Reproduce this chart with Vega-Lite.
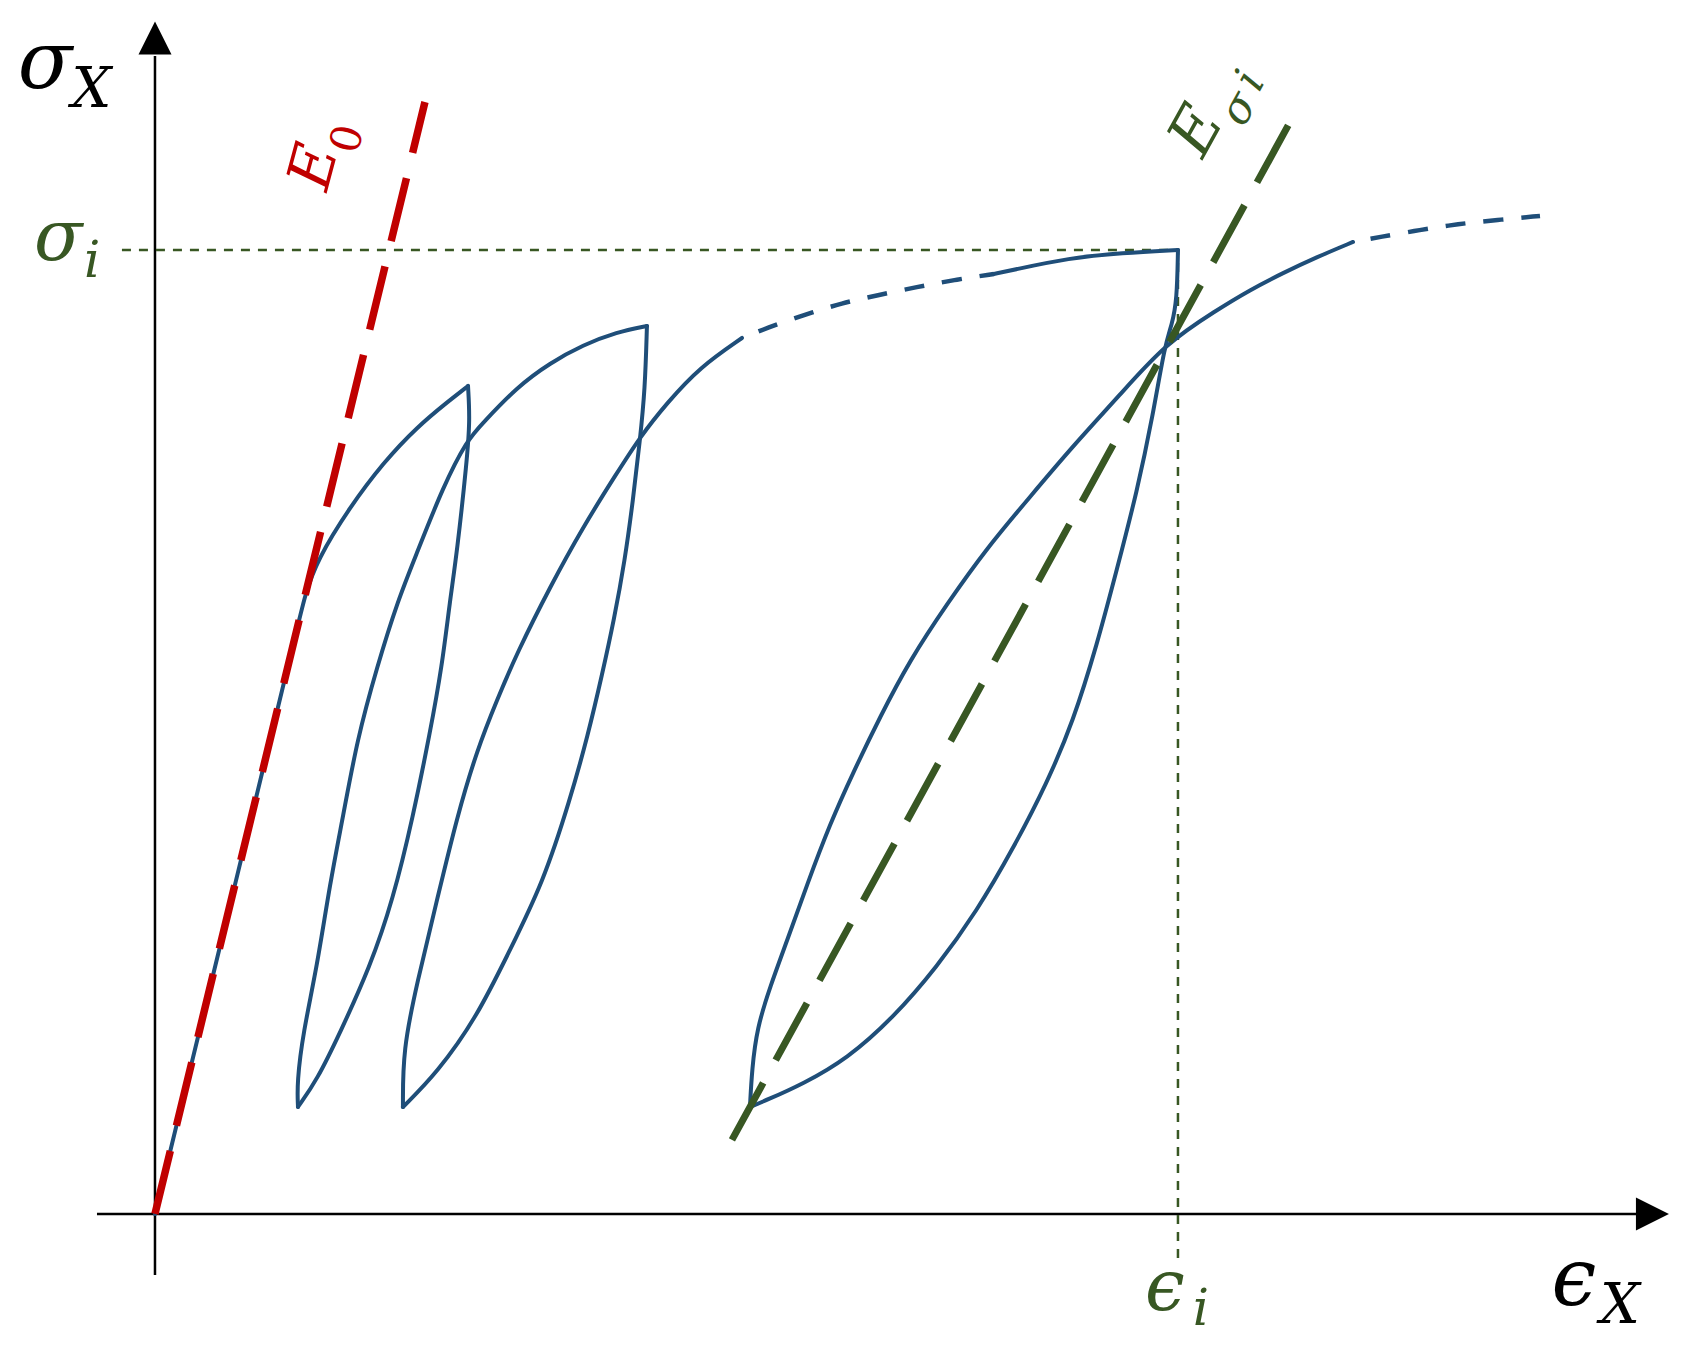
{
  "$schema": "https://vega.github.io/schema/vega-lite/v6.json",
  "width": 1687,
  "height": 1355,
  "padding": 0,
  "autosize": {"type": "none"},
  "background": "white",
  "config": {"view": {"stroke": null}},
  "datasets": {
    "blue": [
      {"s": "a", "o": 1, "x": 0, "y": 0},
      {"s": "a", "o": 2, "x": 0.0733, "y": 0.3200},
      {"s": "a", "o": 3, "x": 0.1398, "y": 0.6110},
      {"s": "a", "o": 4, "x": 0.1461, "y": 0.6400},
      {"s": "a", "o": 5, "x": 0.1584, "y": 0.6784},
      {"s": "a", "o": 6, "x": 0.1906, "y": 0.7334},
      {"s": "a", "o": 7, "x": 0.2229, "y": 0.7790},
      {"s": "a", "o": 8, "x": 0.2561, "y": 0.8164},
      {"s": "a", "o": 9, "x": 0.2884, "y": 0.8444},
      {"s": "a", "o": 10, "x": 0.3060, "y": 0.8589},
      {"s": "b", "o": 1, "x": 0.3060, "y": 0.8589},
      {"s": "b", "o": 2, "x": 0.3079, "y": 0.8237},
      {"s": "b", "o": 3, "x": 0.3050, "y": 0.7822},
      {"s": "b", "o": 4, "x": 0.2952, "y": 0.6857},
      {"s": "b", "o": 5, "x": 0.2884, "y": 0.6369},
      {"s": "b", "o": 6, "x": 0.2805, "y": 0.5674},
      {"s": "b", "o": 7, "x": 0.2688, "y": 0.4990},
      {"s": "b", "o": 8, "x": 0.2522, "y": 0.4118},
      {"s": "b", "o": 9, "x": 0.2326, "y": 0.3257},
      {"s": "b", "o": 10, "x": 0.2102, "y": 0.2562},
      {"s": "b", "o": 11, "x": 0.1808, "y": 0.1878},
      {"s": "b", "o": 12, "x": 0.1584, "y": 0.1390},
      {"s": "b", "o": 13, "x": 0.1398, "y": 0.1110},
      {"s": "c", "o": 1, "x": 0.1398, "y": 0.1110},
      {"s": "c", "o": 2, "x": 0.1388, "y": 0.1359},
      {"s": "c", "o": 3, "x": 0.1447, "y": 0.1878},
      {"s": "c", "o": 4, "x": 0.1584, "y": 0.2562},
      {"s": "c", "o": 5, "x": 0.1711, "y": 0.3434},
      {"s": "c", "o": 6, "x": 0.1838, "y": 0.4118},
      {"s": "c", "o": 7, "x": 0.1975, "y": 0.4917},
      {"s": "c", "o": 8, "x": 0.2170, "y": 0.5674},
      {"s": "c", "o": 9, "x": 0.2375, "y": 0.6369},
      {"s": "c", "o": 10, "x": 0.2561, "y": 0.6857},
      {"s": "c", "o": 11, "x": 0.2815, "y": 0.7541},
      {"s": "c", "o": 12, "x": 0.3050, "y": 0.8029},
      {"s": "c", "o": 13, "x": 0.3206, "y": 0.8205},
      {"s": "c", "o": 14, "x": 0.3539, "y": 0.8579},
      {"s": "c", "o": 15, "x": 0.3861, "y": 0.8828},
      {"s": "c", "o": 16, "x": 0.4184, "y": 0.9015},
      {"s": "c", "o": 17, "x": 0.4516, "y": 0.9149},
      {"s": "c", "o": 18, "x": 0.4809, "y": 0.9212},
      {"s": "d", "o": 1, "x": 0.4809, "y": 0.9212},
      {"s": "d", "o": 2, "x": 0.4790, "y": 0.8548},
      {"s": "d", "o": 3, "x": 0.4741, "y": 0.8029},
      {"s": "d", "o": 4, "x": 0.4673, "y": 0.7407},
      {"s": "d", "o": 5, "x": 0.4594, "y": 0.6784},
      {"s": "d", "o": 6, "x": 0.4487, "y": 0.6162},
      {"s": "d", "o": 7, "x": 0.4370, "y": 0.5591},
      {"s": "d", "o": 8, "x": 0.4233, "y": 0.4969},
      {"s": "d", "o": 9, "x": 0.4057, "y": 0.4295},
      {"s": "d", "o": 10, "x": 0.3793, "y": 0.3434},
      {"s": "d", "o": 11, "x": 0.3470, "y": 0.2739},
      {"s": "d", "o": 12, "x": 0.3148, "y": 0.2044},
      {"s": "d", "o": 13, "x": 0.2757, "y": 0.1463},
      {"s": "d", "o": 14, "x": 0.2424, "y": 0.1110},
      {"s": "e", "o": 1, "x": 0.2424, "y": 0.1110},
      {"s": "e", "o": 2, "x": 0.2424, "y": 0.1701},
      {"s": "e", "o": 3, "x": 0.2561, "y": 0.2396},
      {"s": "e", "o": 4, "x": 0.2757, "y": 0.3257},
      {"s": "e", "o": 5, "x": 0.2952, "y": 0.4118},
      {"s": "e", "o": 6, "x": 0.3148, "y": 0.4813},
      {"s": "e", "o": 7, "x": 0.3343, "y": 0.5332},
      {"s": "e", "o": 8, "x": 0.3539, "y": 0.5820},
      {"s": "e", "o": 9, "x": 0.3861, "y": 0.6504},
      {"s": "e", "o": 10, "x": 0.4184, "y": 0.7127},
      {"s": "e", "o": 11, "x": 0.4516, "y": 0.7687},
      {"s": "e", "o": 12, "x": 0.4741, "y": 0.8060},
      {"s": "e", "o": 13, "x": 0.5005, "y": 0.8413},
      {"s": "e", "o": 14, "x": 0.5327, "y": 0.8786},
      {"s": "e", "o": 15, "x": 0.5738, "y": 0.9087},
      {"s": "f", "o": 1, "x": 0.8201, "y": 0.9751},
      {"s": "f", "o": 2, "x": 0.8387, "y": 0.9793},
      {"s": "f", "o": 3, "x": 0.8935, "y": 0.9917},
      {"s": "f", "o": 4, "x": 0.9453, "y": 0.9969},
      {"s": "f", "o": 5, "x": 1.0, "y": 1.0},
      {"s": "g", "o": 1, "x": 1.0, "y": 1.0},
      {"s": "g", "o": 2, "x": 0.9990, "y": 0.9481},
      {"s": "g", "o": 3, "x": 0.9941, "y": 0.9222},
      {"s": "g", "o": 4, "x": 0.9873, "y": 0.9025},
      {"s": "g", "o": 5, "x": 0.9756, "y": 0.8288},
      {"s": "g", "o": 6, "x": 0.9599, "y": 0.7490},
      {"s": "g", "o": 7, "x": 0.9404, "y": 0.6691},
      {"s": "g", "o": 8, "x": 0.9208, "y": 0.5902},
      {"s": "g", "o": 9, "x": 0.8974, "y": 0.5104},
      {"s": "g", "o": 10, "x": 0.8720, "y": 0.4471},
      {"s": "g", "o": 11, "x": 0.8387, "y": 0.3786},
      {"s": "g", "o": 12, "x": 0.8035, "y": 0.3143},
      {"s": "g", "o": 13, "x": 0.7644, "y": 0.2562},
      {"s": "g", "o": 14, "x": 0.7214, "y": 0.2033},
      {"s": "g", "o": 15, "x": 0.6764, "y": 0.1608},
      {"s": "g", "o": 16, "x": 0.6334, "y": 0.1349},
      {"s": "g", "o": 17, "x": 0.5982, "y": 0.1183},
      {"s": "g", "o": 18, "x": 0.5816, "y": 0.1110},
      {"s": "h", "o": 1, "x": 0.5816, "y": 0.1110},
      {"s": "h", "o": 2, "x": 0.5836, "y": 0.1504},
      {"s": "h", "o": 3, "x": 0.5885, "y": 0.1929},
      {"s": "h", "o": 4, "x": 0.6012, "y": 0.2355},
      {"s": "h", "o": 5, "x": 0.6178, "y": 0.2832},
      {"s": "h", "o": 6, "x": 0.6373, "y": 0.3413},
      {"s": "h", "o": 7, "x": 0.6598, "y": 0.4046},
      {"s": "h", "o": 8, "x": 0.6823, "y": 0.4575},
      {"s": "h", "o": 9, "x": 0.7087, "y": 0.5156},
      {"s": "h", "o": 10, "x": 0.7380, "y": 0.5747},
      {"s": "h", "o": 11, "x": 0.7742, "y": 0.6328},
      {"s": "h", "o": 12, "x": 0.8133, "y": 0.6909},
      {"s": "h", "o": 13, "x": 0.8553, "y": 0.7438},
      {"s": "h", "o": 14, "x": 0.8974, "y": 0.7967},
      {"s": "h", "o": 15, "x": 0.9433, "y": 0.8496},
      {"s": "h", "o": 16, "x": 0.9873, "y": 0.9025},
      {"s": "h", "o": 17, "x": 1.0381, "y": 0.9378},
      {"s": "h", "o": 18, "x": 1.0704, "y": 0.9585},
      {"s": "h", "o": 19, "x": 1.1026, "y": 0.9761},
      {"s": "h", "o": 20, "x": 1.1359, "y": 0.9927},
      {"s": "h", "o": 21, "x": 1.1711, "y": 1.0083}
    ],
    "bluedash": [
      {"s": "m", "o": 1, "x": 0.5738, "y": 0.9087},
      {"s": "m", "o": 2, "x": 0.5982, "y": 0.9191},
      {"s": "m", "o": 3, "x": 0.6344, "y": 0.9326},
      {"s": "m", "o": 4, "x": 0.6716, "y": 0.9450},
      {"s": "m", "o": 5, "x": 0.7077, "y": 0.9533},
      {"s": "m", "o": 6, "x": 0.7449, "y": 0.9616},
      {"s": "m", "o": 7, "x": 0.7810, "y": 0.9689},
      {"s": "m", "o": 8, "x": 0.8201, "y": 0.9751},
      {"s": "n", "o": 1, "x": 1.1711, "y": 1.0083},
      {"s": "n", "o": 2, "x": 1.1975, "y": 1.0135},
      {"s": "n", "o": 3, "x": 1.2366, "y": 1.0207},
      {"s": "n", "o": 4, "x": 1.2737, "y": 1.0270},
      {"s": "n", "o": 5, "x": 1.3118, "y": 1.0311},
      {"s": "n", "o": 6, "x": 1.3539, "y": 1.0353}
    ]
  },
  "layer": [
    {
      "data": {"values": [
        {"x": -0.0567, "x2": 1.4497, "y": 0, "y2": 0},
        {"x": 0, "x2": 0, "y": -0.0633, "y2": 1.2012}
      ]},
      "mark": {"type": "rule", "color": "black", "strokeWidth": 2.5},
      "encoding": {
        "x": {"field": "x", "type": "quantitative", "scale": {"domain": [-0.1515, 1.4976], "nice": false, "zero": false}, "axis": null},
        "x2": {"field": "x2"},
        "y": {"field": "y", "type": "quantitative", "scale": {"domain": [-0.1463, 1.2593], "nice": false, "zero": false}, "axis": null},
        "y2": {"field": "y2"}
      }
    },
    {
      "data": {"values": [{"x": 0, "y": 1.2199}]},
      "mark": {"type": "point", "shape": "M0,-1L1,1L-1,1Z", "filled": true, "color": "black", "opacity": 1, "size": 1089},
      "encoding": {
        "x": {"field": "x", "type": "quantitative", "scale": {"domain": [-0.1515, 1.4976], "nice": false, "zero": false}, "axis": null},
        "y": {"field": "y", "type": "quantitative", "scale": {"domain": [-0.1463, 1.2593], "nice": false, "zero": false}, "axis": null}
      }
    },
    {
      "data": {"values": [{"x": 1.4638, "y": 0}]},
      "mark": {"type": "point", "shape": "M1,0L-1,-1L-1,1Z", "filled": true, "color": "black", "opacity": 1, "size": 1089},
      "encoding": {
        "x": {"field": "x", "type": "quantitative", "scale": {"domain": [-0.1515, 1.4976], "nice": false, "zero": false}, "axis": null},
        "y": {"field": "y", "type": "quantitative", "scale": {"domain": [-0.1463, 1.2593], "nice": false, "zero": false}, "axis": null}
      }
    },
    {
      "data": {"values": [
        {"x": -0.0323, "x2": 1, "y": 1, "y2": 1},
        {"x": 1, "x2": 1, "y": -0.0456, "y2": 1}
      ]},
      "mark": {"type": "rule", "color": "#385723", "strokeWidth": 2.5, "strokeDash": [9, 8]},
      "encoding": {
        "x": {"field": "x", "type": "quantitative", "scale": {"domain": [-0.1515, 1.4976], "nice": false, "zero": false}, "axis": null},
        "x2": {"field": "x2"},
        "y": {"field": "y", "type": "quantitative", "scale": {"domain": [-0.1463, 1.2593], "nice": false, "zero": false}, "axis": null},
        "y2": {"field": "y2"}
      }
    },
    {
      "data": {"name": "blue"},
      "mark": {"type": "line", "interpolate": "basis", "color": "#1f4e79", "strokeWidth": 4, "strokeCap": "round", "strokeJoin": "round"},
      "encoding": {
        "x": {"field": "x", "type": "quantitative", "scale": {"domain": [-0.1515, 1.4976], "nice": false, "zero": false}, "axis": null},
        "y": {"field": "y", "type": "quantitative", "scale": {"domain": [-0.1463, 1.2593], "nice": false, "zero": false}, "axis": null},
        "detail": {"field": "s", "type": "nominal"},
        "order": {"field": "o", "type": "quantitative"}
      }
    },
    {
      "data": {"name": "bluedash"},
      "mark": {"type": "line", "interpolate": "basis", "color": "#1f4e79", "strokeWidth": 4.5, "strokeDash": [20, 18], "strokeDashOffset": 20},
      "encoding": {
        "x": {"field": "x", "type": "quantitative", "scale": {"domain": [-0.1515, 1.4976], "nice": false, "zero": false}, "axis": null},
        "y": {"field": "y", "type": "quantitative", "scale": {"domain": [-0.1463, 1.2593], "nice": false, "zero": false}, "axis": null},
        "detail": {"field": "s", "type": "nominal"},
        "order": {"field": "o", "type": "quantitative"}
      }
    },
    {
      "data": {"values": [
        {"o": 1, "x": 0, "y": 0},
        {"o": 2, "x": 0.2639, "y": 1.1535}
      ]},
      "mark": {"type": "line", "color": "#c00000", "strokeWidth": 7.5, "strokeDash": [65, 26]},
      "encoding": {
        "x": {"field": "x", "type": "quantitative", "scale": {"domain": [-0.1515, 1.4976], "nice": false, "zero": false}, "axis": null},
        "y": {"field": "y", "type": "quantitative", "scale": {"domain": [-0.1463, 1.2593], "nice": false, "zero": false}, "axis": null},
        "order": {"field": "o", "type": "quantitative"}
      }
    },
    {
      "data": {"values": [
        {"o": 1, "x": 0.5640, "y": 0.0768},
        {"o": 2, "x": 1.1150, "y": 1.1432}
      ]},
      "mark": {"type": "line", "color": "#385723", "strokeWidth": 7, "strokeDash": [65, 26]},
      "encoding": {
        "x": {"field": "x", "type": "quantitative", "scale": {"domain": [-0.1515, 1.4976], "nice": false, "zero": false}, "axis": null},
        "y": {"field": "y", "type": "quantitative", "scale": {"domain": [-0.1463, 1.2593], "nice": false, "zero": false}, "axis": null},
        "order": {"field": "o", "type": "quantitative"}
      }
    },
    {
      "data": {"values": [
        {"t": "σ", "x": -0.1075, "y": 1.1680},
        {"t": "ϵ", "x": 1.3871, "y": -0.0944}
      ]},
      "mark": {"type": "text", "font": "DejaVu Serif", "fontStyle": "italic", "fontSize": 80, "color": "black", "align": "center", "baseline": "alphabetic"},
      "encoding": {
        "x": {"field": "x", "type": "quantitative", "scale": {"domain": [-0.1515, 1.4976], "nice": false, "zero": false}, "axis": null},
        "y": {"field": "y", "type": "quantitative", "scale": {"domain": [-0.1463, 1.2593], "nice": false, "zero": false}, "axis": null},
        "text": {"field": "t"}
      }
    },
    {
      "data": {"values": [
        {"t": "X", "x": -0.0620, "y": 1.1483},
        {"t": "X", "x": 1.4320, "y": -0.1131}
      ]},
      "mark": {"type": "text", "font": "DejaVu Serif", "fontStyle": "italic", "fontSize": 56, "color": "black", "align": "center", "baseline": "alphabetic"},
      "encoding": {
        "x": {"field": "x", "type": "quantitative", "scale": {"domain": [-0.1515, 1.4976], "nice": false, "zero": false}, "axis": null},
        "y": {"field": "y", "type": "quantitative", "scale": {"domain": [-0.1463, 1.2593], "nice": false, "zero": false}, "axis": null},
        "text": {"field": "t"}
      }
    },
    {
      "data": {"values": [
        {"t": "σ", "x": -0.0945, "y": 0.9896},
        {"t": "ϵ", "x": 0.9873, "y": -0.0996}
      ]},
      "mark": {"type": "text", "font": "DejaVu Serif", "fontStyle": "italic", "fontSize": 71, "color": "#385723", "align": "center", "baseline": "alphabetic"},
      "encoding": {
        "x": {"field": "x", "type": "quantitative", "scale": {"domain": [-0.1515, 1.4976], "nice": false, "zero": false}, "axis": null},
        "y": {"field": "y", "type": "quantitative", "scale": {"domain": [-0.1463, 1.2593], "nice": false, "zero": false}, "axis": null},
        "text": {"field": "t"}
      }
    },
    {
      "data": {"values": [
        {"t": "i", "x": -0.0615, "y": 0.9720},
        {"t": "i", "x": 1.0225, "y": -0.1151}
      ]},
      "mark": {"type": "text", "font": "DejaVu Serif", "fontStyle": "italic", "fontSize": 51, "color": "#385723", "align": "center", "baseline": "alphabetic"},
      "encoding": {
        "x": {"field": "x", "type": "quantitative", "scale": {"domain": [-0.1515, 1.4976], "nice": false, "zero": false}, "axis": null},
        "y": {"field": "y", "type": "quantitative", "scale": {"domain": [-0.1463, 1.2593], "nice": false, "zero": false}, "axis": null},
        "text": {"field": "t"}
      }
    },
    {
      "data": {"values": [{"t": "E", "x": 0.1564, "y": 1.0861}]},
      "mark": {"type": "text", "font": "DejaVu Serif", "fontStyle": "italic", "fontSize": 60, "color": "#c00000", "align": "center", "baseline": "middle", "angle": -75},
      "encoding": {
        "x": {"field": "x", "type": "quantitative", "scale": {"domain": [-0.1515, 1.4976], "nice": false, "zero": false}, "axis": null},
        "y": {"field": "y", "type": "quantitative", "scale": {"domain": [-0.1463, 1.2593], "nice": false, "zero": false}, "axis": null},
        "text": {"field": "t"}
      }
    },
    {
      "data": {"values": [{"t": "0", "x": 0.1887, "y": 1.1151}]},
      "mark": {"type": "text", "font": "DejaVu Serif", "fontSize": 42, "color": "#c00000", "align": "center", "baseline": "middle", "angle": -75},
      "encoding": {
        "x": {"field": "x", "type": "quantitative", "scale": {"domain": [-0.1515, 1.4976], "nice": false, "zero": false}, "axis": null},
        "y": {"field": "y", "type": "quantitative", "scale": {"domain": [-0.1463, 1.2593], "nice": false, "zero": false}, "axis": null},
        "text": {"field": "t"}
      }
    },
    {
      "data": {"values": [{"t": "E", "x": 1.0186, "y": 1.1234}]},
      "mark": {"type": "text", "font": "DejaVu Serif", "fontStyle": "italic", "fontSize": 62, "color": "#385723", "align": "center", "baseline": "middle", "angle": -61},
      "encoding": {
        "x": {"field": "x", "type": "quantitative", "scale": {"domain": [-0.1515, 1.4976], "nice": false, "zero": false}, "axis": null},
        "y": {"field": "y", "type": "quantitative", "scale": {"domain": [-0.1463, 1.2593], "nice": false, "zero": false}, "axis": null},
        "text": {"field": "t"}
      }
    },
    {
      "data": {"values": [
        {"t": "σ", "x": 1.0600, "y": 1.1462},
        {"t": "i", "x": 1.0713, "y": 1.1753}
      ]},
      "mark": {"type": "text", "font": "DejaVu Serif", "fontStyle": "italic", "fontSize": 44, "color": "#385723", "align": "center", "baseline": "middle", "angle": -61},
      "encoding": {
        "x": {"field": "x", "type": "quantitative", "scale": {"domain": [-0.1515, 1.4976], "nice": false, "zero": false}, "axis": null},
        "y": {"field": "y", "type": "quantitative", "scale": {"domain": [-0.1463, 1.2593], "nice": false, "zero": false}, "axis": null},
        "text": {"field": "t"}
      }
    }
  ]
}
